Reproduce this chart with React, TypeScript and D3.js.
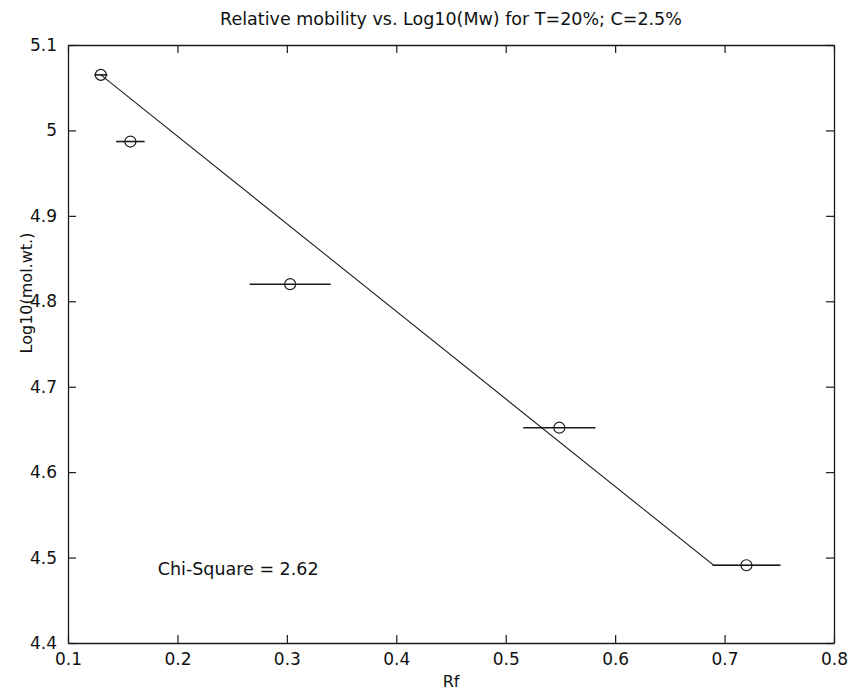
import React, { useRef, useEffect } from "react";
import * as d3 from "d3";

const rf = [0.13, 0.157, 0.303, 0.549, 0.72];
const logMw = [5.065, 4.987, 4.82, 4.652, 4.491];
const rfErr = [0.006, 0.013, 0.037, 0.033, 0.031];
const fitRf = [0.13, 0.69, 0.751];
const fitLog = [5.065, 4.491, 4.491];
const xTicks = [0.1, 0.2, 0.3, 0.4, 0.5, 0.6, 0.7, 0.8];
const yTicks = [4.4, 4.5, 4.6, 4.7, 4.8, 4.9, 5, 5.1];

const App = () => {
  const ref = useRef<SVGSVGElement>(null);

  useEffect(() => {
    const svg = d3.select(ref.current);
    svg.selectAll("*").remove();

    const width = 858;
    const height = 693;
    const margin = { top: 45, right: 24, bottom: 50, left: 68 };
    const font = "'DejaVu Sans', sans-serif";
    const ink = "#1a1a1a";
    const fmt = (d) => String(+(+d).toFixed(2));

    const x = d3
      .scaleLinear()
      .domain([0.1, 0.8])
      .range([margin.left, width - margin.right]);

    const y = d3
      .scaleLinear()
      .domain([4.4, 5.1])
      .range([height - margin.bottom, margin.top]);

    const tick = 8;

    // box axes, ticks pointing inward
    const bottom = d3
      .axisBottom(x)
      .tickValues(xTicks)
      .tickSizeInner(-tick)
      .tickSizeOuter(0)
      .tickPadding(10)
      .tickFormat(fmt);
    const top = d3.axisTop(x).tickValues(xTicks).tickSizeInner(-tick).tickSizeOuter(0).tickFormat(() => "");
    const left = d3
      .axisLeft(y)
      .tickValues(yTicks)
      .tickSizeInner(-tick)
      .tickSizeOuter(0)
      .tickPadding(11)
      .tickFormat(fmt);
    const right = d3.axisRight(y).tickValues(yTicks).tickSizeInner(-tick).tickSizeOuter(0).tickFormat(() => "");

    const gB = svg
      .append("g")
      .attr("transform", `translate(0,${height - margin.bottom})`)
      .call(bottom);
    const gT = svg.append("g").attr("transform", `translate(0,${margin.top})`).call(top);
    const gL = svg.append("g").attr("transform", `translate(${margin.left},0)`).call(left);
    const gR = svg
      .append("g")
      .attr("transform", `translate(${width - margin.right},0)`)
      .call(right);

    [gB, gT, gL, gR].forEach((g) => {
      g.select(".domain").attr("stroke", ink).attr("stroke-width", 1.3);
      g.selectAll(".tick line").attr("stroke", ink).attr("stroke-width", 1.2);
      g.selectAll(".tick text")
        .attr("fill", "#111")
        .style("font-family", font)
        .style("font-size", "17px");
    });

    // title
    svg
      .append("text")
      .attr("x", (margin.left + width - margin.right) / 2)
      .attr("y", 25)
      .attr("text-anchor", "middle")
      .style("font-family", font)
      .style("font-size", "17.5px")
      .attr("fill", "#111")
      .text("Relative mobility vs. Log10(Mw) for T=20%; C=2.5%");

    // X label
    svg
      .append("text")
      .attr("x", (margin.left + width - margin.right) / 2)
      .attr("y", 687)
      .attr("text-anchor", "middle")
      .style("font-family", font)
      .style("font-size", "16px")
      .attr("fill", "#111")
      .text("Rf");

    // Y label
    svg
      .append("text")
      .attr("text-anchor", "middle")
      .attr("transform", "rotate(-90)")
      .attr("x", -293)
      .attr("y", 32)
      .style("font-family", font)
      .style("font-size", "16px")
      .attr("fill", "#111")
      .text("Log10(mol.wt.)");

    // fitted line
    const line = d3
      .line<number>()
      .x((d) => x(d))
      .y((_, i) => y(fitLog[i]));
    svg
      .append("path")
      .attr("d", line(fitRf))
      .attr("fill", "none")
      .attr("stroke", "#222")
      .attr("stroke-width", 1.1);

    // horizontal error bars
    svg
      .append("g")
      .selectAll("line")
      .data(rf)
      .join("line")
      .attr("x1", (d, i) => x(d - rfErr[i]))
      .attr("x2", (d, i) => x(d + rfErr[i]))
      .attr("y1", (_, i) => y(logMw[i]))
      .attr("y2", (_, i) => y(logMw[i]))
      .attr("stroke", ink)
      .attr("stroke-width", 1.6);

    // points
    svg
      .append("g")
      .selectAll("circle")
      .data(rf)
      .join("circle")
      .attr("cx", (d) => x(d))
      .attr("cy", (_, i) => y(logMw[i]))
      .attr("r", 5.5)
      .attr("fill", "none")
      .attr("stroke", ink)
      .attr("stroke-width", 1.2);

    svg
      .append("text")
      .attr("x", x(0.182))
      .attr("y", y(4.48))
      .style("font-family", font)
      .style("font-size", "17.5px")
      .attr("fill", "#111")
      .text("Chi-Square = 2.62");
  }, []);

  return (
    <svg
      ref={ref}
      width={858}
      height={693}
      style={{ position: "absolute", left: 0, top: 0, background: "#fff" }}
    />
  );
};

export default App;
